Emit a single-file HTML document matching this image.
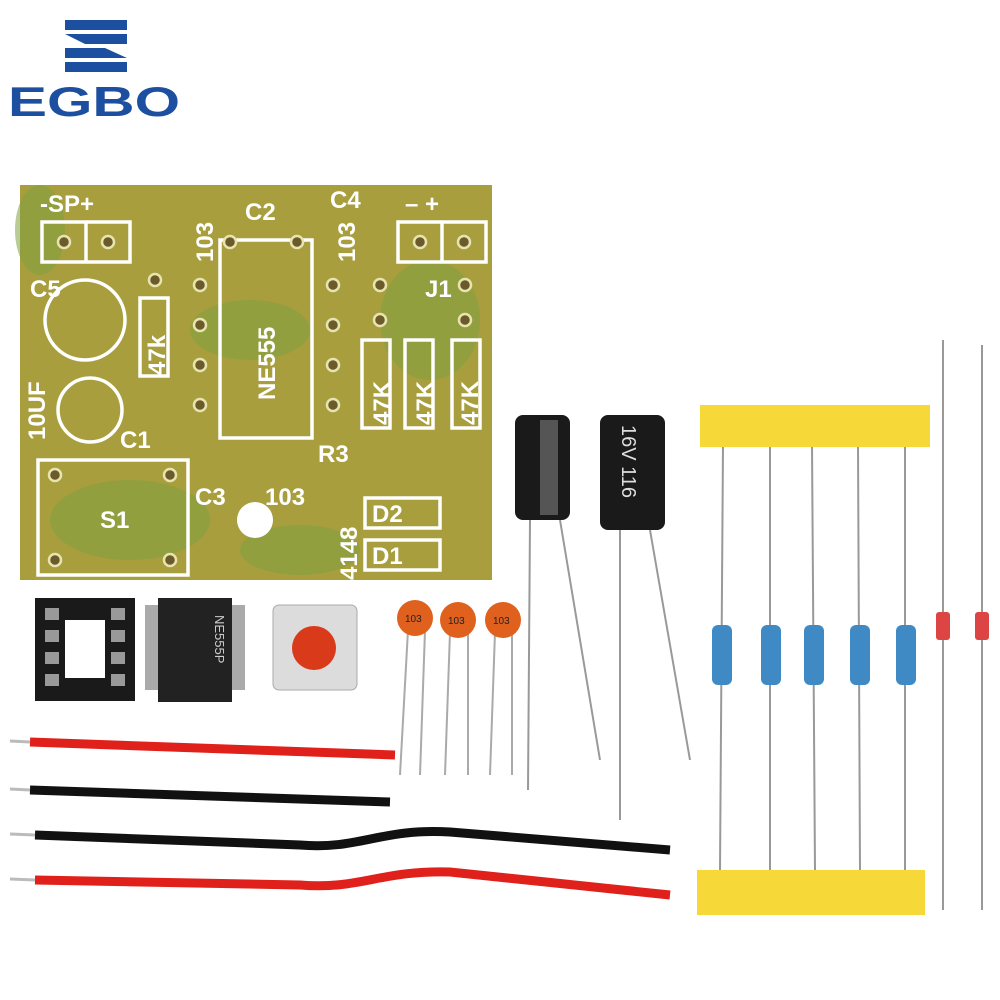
<!DOCTYPE html>
<html><head><meta charset="utf-8"><style>
html,body{margin:0;padding:0;background:#fff;width:1000px;height:1000px;overflow:hidden}
svg text{font-family:"Liberation Sans",sans-serif}
</style></head><body>
<svg width="1000" height="1000" viewBox="0 0 1000 1000" xmlns="http://www.w3.org/2000/svg">
<rect width="1000" height="1000" fill="#fff"/>
<!-- logo -->
<g fill="#1d4fa0">
<rect x="65" y="20" width="62" height="10"/>
<polygon points="65,34 127,34 127,44 85,44"/>
<polygon points="65,48 105,48 127,58 65,58"/>
<rect x="65" y="62" width="62" height="10"/>
</g>
<text x="8" y="116" font-size="42" font-weight="bold" fill="#1d4fa0" textLength="172" lengthAdjust="spacingAndGlyphs">EGBO</text>
<!-- PCB -->
<rect x="20" y="185" width="472" height="395" fill="#a89e3e"/>
<g fill="#7fa040" opacity="0.55">
<ellipse cx="40" cy="230" rx="25" ry="45"/><ellipse cx="250" cy="330" rx="60" ry="30"/>
<ellipse cx="130" cy="520" rx="80" ry="40"/><ellipse cx="430" cy="320" rx="50" ry="60"/>
<ellipse cx="300" cy="550" rx="60" ry="25"/>
</g>
<g fill="none" stroke="#fff" stroke-width="3.5">
<rect x="42" y="222" width="88" height="40"/><line x1="86" y1="222" x2="86" y2="262"/>
<rect x="398" y="222" width="88" height="40"/><line x1="442" y1="222" x2="442" y2="262"/>
<rect x="220" y="240" width="92" height="198"/>
<rect x="38" y="460" width="150" height="115"/>
<rect x="140" y="298" width="28" height="78"/>
<rect x="362" y="340" width="28" height="88"/>
<rect x="405" y="340" width="28" height="88"/>
<rect x="452" y="340" width="28" height="88"/>
<rect x="365" y="498" width="75" height="30"/>
<rect x="365" y="540" width="75" height="30"/>
<circle cx="85" cy="320" r="40"/>
<circle cx="90" cy="410" r="32"/>
</g>
<circle cx="255" cy="520" r="18" fill="#fff"/>
<g fill="#fff" font-size="24" font-weight="bold">
<text x="40" y="212">-SP+</text><text x="245" y="220">C2</text><text x="330" y="208">C4</text>
<text x="405" y="212">–   +</text><text x="425" y="297">J1</text><text x="30" y="297">C5</text>
<text x="120" y="448">C1</text><text x="318" y="462">R3</text><text x="195" y="505">C3</text>
<text x="265" y="505">103</text><text x="100" y="528">S1</text><text x="372" y="522">D2</text><text x="372" y="564">D1</text>
<text transform="translate(213,262) rotate(-90)">103</text>
<text transform="translate(355,262) rotate(-90)">103</text>
<text transform="translate(275,400) rotate(-90)">NE555</text>
<text transform="translate(165,375) rotate(-90)">47k</text>
<text transform="translate(390,425) rotate(-90)">47K</text>
<text transform="translate(433,425) rotate(-90)">47K</text>
<text transform="translate(478,425) rotate(-90)">47K</text>
<text transform="translate(45,440) rotate(-90)">10UF</text>
<text transform="translate(357,580) rotate(-90)">4148</text>
</g>
<g fill="#6b5a2a" stroke="#e8e4b0" stroke-width="2.5">
<circle cx="64" cy="242" r="6"/><circle cx="108" cy="242" r="6"/><circle cx="420" cy="242" r="6"/><circle cx="464" cy="242" r="6"/>
<circle cx="200" cy="285" r="6"/><circle cx="200" cy="325" r="6"/><circle cx="200" cy="365" r="6"/><circle cx="200" cy="405" r="6"/>
<circle cx="333" cy="285" r="6"/><circle cx="333" cy="325" r="6"/><circle cx="333" cy="365" r="6"/><circle cx="333" cy="405" r="6"/>
<circle cx="155" cy="280" r="6"/><circle cx="230" cy="242" r="6"/><circle cx="297" cy="242" r="6"/>
<circle cx="380" cy="285" r="6"/><circle cx="380" cy="320" r="6"/><circle cx="465" cy="285" r="6"/><circle cx="465" cy="320" r="6"/>
<circle cx="55" cy="475" r="6"/><circle cx="170" cy="475" r="6"/><circle cx="55" cy="560" r="6"/><circle cx="170" cy="560" r="6"/>
</g>
<!-- electrolytic caps -->
<g stroke="#999" stroke-width="2" fill="none">
<line x1="530" y1="520" x2="528" y2="790"/><line x1="560" y1="520" x2="600" y2="760"/>
<line x1="620" y1="530" x2="620" y2="820"/><line x1="650" y1="530" x2="690" y2="760"/>
</g>
<rect x="515" y="415" width="55" height="105" rx="8" fill="#1a1a1a"/>
<rect x="600" y="415" width="65" height="115" rx="8" fill="#1a1a1a"/>
<rect x="540" y="420" width="18" height="95" fill="#555"/>
<text transform="translate(622,425) rotate(90)" fill="#ddd" font-size="20">16V 116</text>
<!-- IC socket -->
<rect x="35" y="598" width="100" height="103" fill="#1a1a1a"/>
<rect x="65" y="620" width="40" height="58" fill="#fff"/>
<g fill="#999"><rect x="45" y="608" width="14" height="12"/><rect x="45" y="630" width="14" height="12"/><rect x="45" y="652" width="14" height="12"/><rect x="45" y="674" width="14" height="12"/>
<rect x="111" y="608" width="14" height="12"/><rect x="111" y="630" width="14" height="12"/><rect x="111" y="652" width="14" height="12"/><rect x="111" y="674" width="14" height="12"/></g>
<!-- IC -->
<rect x="145" y="605" width="100" height="85" fill="#aaa"/>
<rect x="158" y="598" width="74" height="104" fill="#222"/>
<text transform="translate(215,615) rotate(90)" fill="#ccc" font-size="13">NE555P</text>
<!-- button -->
<rect x="273" y="605" width="84" height="85" rx="6" fill="#dcdcdc" stroke="#aaa"/>
<circle cx="314" cy="648" r="22" fill="#d83a1a"/>
<!-- ceramic caps -->
<g stroke="#aaa" stroke-width="2"><line x1="408" y1="630" x2="400" y2="775"/><line x1="425" y1="630" x2="420" y2="775"/>
<line x1="450" y1="632" x2="445" y2="775"/><line x1="468" y1="632" x2="468" y2="775"/>
<line x1="495" y1="632" x2="490" y2="775"/><line x1="512" y1="632" x2="512" y2="775"/></g>
<g fill="#e0601e"><circle cx="415" cy="618" r="18"/><circle cx="458" cy="620" r="18"/><circle cx="503" cy="620" r="18"/></g>
<g fill="#222" font-size="10"><text x="405" y="622">103</text><text x="448" y="624">103</text><text x="493" y="624">103</text></g>
<!-- resistors -->
<g stroke="#999" stroke-width="2">
<line x1="723" y1="445" x2="720" y2="870"/><line x1="770" y1="445" x2="770" y2="870"/><line x1="812" y1="445" x2="815" y2="870"/>
<line x1="858" y1="445" x2="860" y2="870"/><line x1="905" y1="445" x2="905" y2="870"/>
<line x1="943" y1="340" x2="943" y2="910"/><line x1="982" y1="345" x2="982" y2="910"/>
</g>
<g fill="#3f8ac4"><rect x="712" y="625" width="20" height="60" rx="6"/><rect x="761" y="625" width="20" height="60" rx="6"/>
<rect x="804" y="625" width="20" height="60" rx="6"/><rect x="850" y="625" width="20" height="60" rx="6"/><rect x="896" y="625" width="20" height="60" rx="6"/></g>
<g fill="#d44"><rect x="936" y="612" width="14" height="28" rx="3"/><rect x="975" y="612" width="14" height="28" rx="3"/></g>
<rect x="700" y="405" width="230" height="42" fill="#f6d938"/>
<rect x="697" y="870" width="228" height="45" fill="#f6d938"/>
<!-- wires -->
<g fill="none" stroke-width="9" stroke-linecap="butt">
<path d="M30 742 L395 755" stroke="#e0201a"/>
<path d="M30 790 L390 802" stroke="#111"/>
<path d="M35 835 L300 845 C360 850 380 828 450 832 L670 850" stroke="#111"/>
<path d="M35 880 L300 885 C360 890 380 870 450 872 L670 895" stroke="#e0201a"/>
</g>
<g stroke="#bbb" stroke-width="3"><line x1="10" y1="741" x2="30" y2="742"/><line x1="10" y1="789" x2="30" y2="790"/><line x1="10" y1="834" x2="35" y2="835"/><line x1="10" y1="879" x2="35" y2="880"/></g>
</svg>
</body></html>
